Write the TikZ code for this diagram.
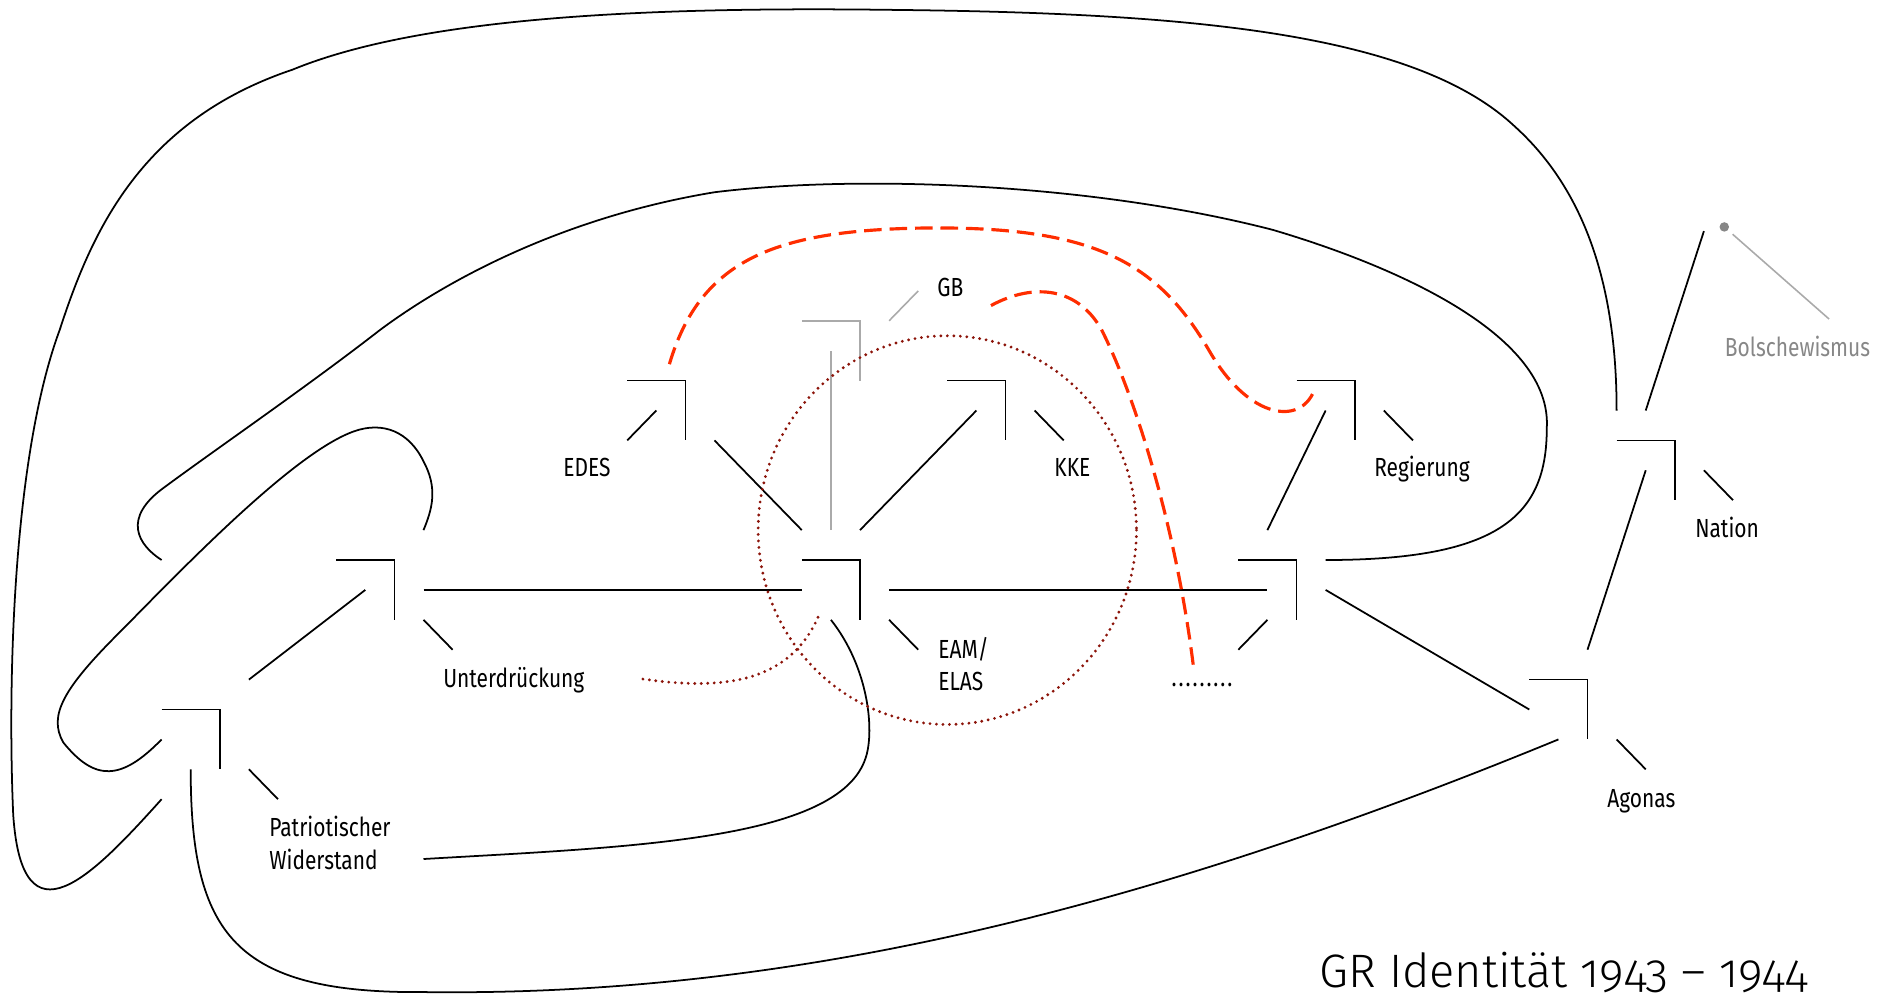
\documentclass[tikz,border=0pt]{standalone}
\usepackage{fontspec}
\setmainfont[FakeStretch=0.8]{Fira Sans}
\newfontfamily\titlefont[Numbers=OldStyle, RawFeature=+onum]{Fira Sans Light}
\definecolor{signalred}{RGB}{255,45,0}
\definecolor{darkred}{RGB}{140,20,10}
\definecolor{greyline}{RGB}{170,170,170}
\definecolor{greytext}{RGB}{135,135,135}

% corner knot: name, position; ports (name-a1) ... (name-e5) on the unit grid round it
\newcommand{\knot}[3][knot]{%
  \coordinate (#2) at (#3);
  \foreach \cl/\dx in {a/-2,b/-1,c/0,d/1,e/2}{
    \foreach \rw/\dy in {1/-1,2/0,3/1,4/2,5/3}{
      \coordinate (#2-\cl\rw) at ([shift={(\dx,\dy)}]#2);
    }
  }
  \draw[#1] (#2-a2) -- (#2) -- (#2-c4);
}

\begin{document}
\begin{tikzpicture}[x=0.582cm, y=-0.598cm,
		knot/.style={line width=1pt},
		link/.style={line width=1pt},
		faint/.style={line width=0.9pt, greyline},
		redash/.style={line width=1.8pt, signalred, dash pattern=on 10pt off 4.5pt},
		reddot/.style={line width=1.8pt, darkred, line cap=round, dash pattern=on 0pt off 3.7pt},
		lbl/.style={inner sep=0pt, font=\fontsize{14.9}{18.55}\selectfont}]
		\useasboundingbox (-0.5533,-0.7291) rectangle (64.223,32.615);

		% Knots
		\knot{pw}{7,23}
		\knot{unt}{13,18}
		\knot{edes}{23,12}
		\knot[faint]{gb}{29,10}
		\knot{eam}{29,18}
		\knot{kke}{34,12}
		\knot{dots}{44,18}
		\knot{reg}{46,12}
		\knot{agon}{54,22}
		\knot{nat}{57,14}

		% Free ends
		\coordinate (hook) at (5,18);
		\coordinate (pwend) at (14,28);
		\coordinate (natend) at (58,7);
		\coordinate (bolend) at (62.3,9.94);

		% Straight links
		\draw[link] (pw-d1) -- (unt-b3);
		\draw[link] (unt-d3) -- (eam-a3);
		\draw[link] (edes-d4) -- (eam-a1);
		\draw[link] (eam-c1) -- (kke-b3);
		\draw[link] (eam-d3) -- (dots-b3);
		\draw[link] (dots-b1) -- (reg-b3);
		\draw[link] (dots-d3) -- (agon-a3);
		\draw[link] (agon-c1) -- (nat-b3);
		\draw[link] (nat-b1) -- (natend);
		\draw[faint] (eam-b1) -- (gb-b3);

		% Label ticks
		\foreach \k/\p/\q in {pw/d4/e5, unt/d4/e5, edes/b3/a4, eam/d4/e5, kke/d3/e4,
				dots/b4/a5, reg/d3/e4, agon/d4/e5, nat/d3/e4}
			\draw[link] (\k-\p) -- (\k-\q);
		\draw[faint] (gb-d2) -- (gb-e1);

		% Curves
		% -- outer loop
		\draw[link] (pw-a5) .. controls (2.6,28.6) and (0.2,31) .. (-0.1,26.5)
			.. controls (-0.3,22) and (-0.1,14.5) .. (1.5,10.3)
			.. controls (2.6,7) and (4.3,3.3) .. (9.5,1.6)
			.. controls (14,-0.2) and (22,-0.5) .. (30,-0.4)
			.. controls (40,-0.3) and (48,0.3) .. (51.5,3.5)
			.. controls (54,5.7) and (55,9) .. (nat-a1);
		% -- second loop
		\draw[link] (hook) .. controls (4.2,17.5) and (3.6,16.6) .. (5.12,15.55)
			.. controls (7,14.2) and (10,12.2) .. (12.5,10.31)
			.. controls (15,8.5) and (19,6.5) .. (24,5.7)
			.. controls (29,5.1) and (37,5.4) .. (43.19,6.96)
			.. controls (47.5,8.2) and (52.8,10.5) .. (52.6,13.6)
			.. controls (52.6,16.5) and (51,18) .. (dots-d2);
		% -- small loop
		\draw[link] (pw-a3) .. controls (3.6,25.4) and (2.7,25.4) .. (1.62,24.1)
			.. controls (1.1,23.2) and (1.6,22.3) .. (3.67,20.31)
			.. controls (6,18) and (9.6,14.4) .. (11.6,13.7)
			.. controls (12.6,13.35) and (13.5,13.7) .. (14,14.7)
			.. controls (14.5,15.6) and (14.3,16.3) .. (unt-d1);
		% -- widerstand to eam
		\draw[link] (pwend) .. controls (21,27.6) and (28.3,27.4) .. (29.2,24.6)
			.. controls (29.5,23.7) and (29.3,21.6) .. (eam-b4);
		% -- bottom loop
		\draw[link] (pw-b4) .. controls (6,30.5) and (7.5,32.5) .. (14,32.45)
			.. controls (26,32.6) and (38,30) .. (agon-b4);

		% Red marks
		\coordinate (ring) at (32,17);
		\draw[reddot] (ring) circle[radius=6.5];
		\draw[reddot] (21.54,21.98) .. controls (24.5,22.4) and (26.6,22) .. (27.56,19.91);
		\draw[redash] (22.45,11.45) .. controls (23.5,8) and (26,7) .. (31,6.9)
			.. controls (37,6.8) and (39.2,8) .. (41,11)
			.. controls (42.3,13.2) and (44,13.5) .. (44.55,12.45);
		\draw[redash] (33.5,9.49) .. controls (35,8.7) and (36.5,8.9) .. (37.3,10.3)
			.. controls (38.3,12.2) and (39.8,16.5) .. (40.45,21.5);

		% Bolschewismus marker
		\node[circle, fill=greytext, inner sep=0pt, minimum size=0.19cm] (boldot) at (58.7,6.86) {};
		\draw[faint, shorten <=0.12cm] (boldot) -- (bolend);

		% Labels
		\node[lbl, anchor=base east] (edes-l) at (20.44,15.22) {EDES};
		\node[lbl, anchor=base west] (kke-l) at (35.67,15.22) {KKE};
		\node[lbl, anchor=base west] (reg-l) at (46.66,15.22) {Regierung};
		\node[lbl, anchor=base west] (gb-l) at (31.65,9.2) {GB};
		\node[lbl, anchor=base west, align=left] (eam-l) at (31.68,22.37) {EAM/\\ELAS};
		\node[lbl, anchor=base west] (unt-l) at (14.67,22.28) {Unterdrückung};
		\node[lbl, anchor=base west, align=left] (pw-l) at (8.69,28.34) {Patriotischer\\Widerstand};
		\node[lbl, anchor=base west] (agon-l) at (54.67,26.29) {Agonas};
		\node[lbl, anchor=base west] (nat-l) at (57.69,17.25) {Nation};
		\node[lbl, anchor=base west, text=greytext] (bol-l) at (58.71,11.21) {Bolschewismus};
		\node[lbl, anchor=base west] (dots-l) at (39.7,22.23) {\foreach \i in {1,...,9}{.\kern1.1pt}};

		% Title
		\node[anchor=base west, inner sep=0pt, font=\titlefont\fontsize{26.7}{32}\selectfont] (title)
			at (44.77,32.31) {GR Identität 1943 – 1944};
	\end{tikzpicture}
\end{document}
